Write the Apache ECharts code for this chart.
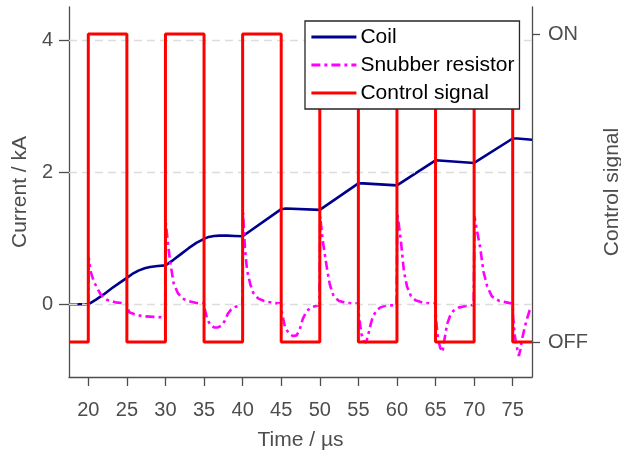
<!DOCTYPE html>
<html>
<head>
<meta charset="utf-8">
<script src="https://cdn.jsdelivr.net/npm/echarts@6/dist/echarts.min.js"></script>
<style>
html,body{margin:0;padding:0;background:#fff;}
#chart{width:621px;height:455px;}
</style>
</head>
<body>
<div id="chart"></div>
<script>
// ---- data ----
var xTicks = [20, 25, 30, 35, 40, 45, 50, 55, 60, 65, 70, 75];
var yTicks = [0, 2, 4];
var stateTicks = [0, 1];
var stateLabels = ['OFF', 'ON'];
var seriesNames = ['Coil', 'Snubber resistor', 'Control signal'];

var coilTime = [17.5, 20, 21, 22, 23, 24, 25, 25.7, 26.5, 27.3, 28, 29, 30, 31, 32, 33, 34, 35, 35.6, 36.3, 37, 38, 39, 40, 45, 45.6, 50, 55, 55.6, 60, 65, 70, 75, 75.6, 77.5];
var coilCurrent = [0, 0, 0.07, 0.15, 0.24, 0.32, 0.40, 0.46, 0.51, 0.545, 0.565, 0.58, 0.59, 0.67, 0.76, 0.85, 0.93, 0.99, 1.02, 1.035, 1.04, 1.04, 1.035, 1.03, 1.44, 1.45, 1.43, 1.83, 1.83, 1.80, 2.18, 2.14, 2.51, 2.51, 2.49];

var snubberTime = [
  17.5, 20.0, 20.05, 20.3, 20.7, 21.1, 21.6, 22.4, 23.5, 25.0,
  25.05, 25.3, 26.0, 27.0, 28.5, 29.95,
  30.05, 30.3, 30.6, 31.06, 31.6, 32.2, 32.7, 34.0, 35.0,
  35.05, 35.4, 35.8, 36.3, 36.8, 37.3, 37.7, 38.1, 38.5, 39.0, 39.95,
  40.05, 40.3, 40.57, 41.0, 41.4, 42.0, 42.8, 44.0, 45.0,
  45.05, 45.5, 46.0, 46.5, 47.0, 47.4, 47.8, 48.3, 49.0, 49.95,
  50.05, 50.4, 50.96, 51.3, 51.8, 52.5, 53.5, 55.0,
  55.05, 55.4, 55.7, 56.0, 56.3, 56.6, 56.9, 57.4, 57.8, 58.5, 59.95,
  60.05, 60.5, 60.9, 61.3, 61.8, 62.4, 63.5, 65.0,
  65.05, 65.3, 65.6, 65.9, 66.2, 66.5, 66.9, 67.3, 68.0, 69.0, 69.95,
  70.05, 70.4, 70.8, 71.2, 71.7, 72.3, 73.3, 75.0,
  75.05, 75.3, 75.6, 75.8, 76.0, 76.2, 76.6, 76.9, 77.2, 77.5
];
var snubberCurrent = [
  0, 0, 0.71, 0.5, 0.35, 0.26, 0.15, 0.07, 0.03, 0.01,
  -0.03, -0.12, -0.15, -0.18, -0.19, -0.2,
  1.23, 0.95, 0.65, 0.32, 0.17, 0.09, 0.06, 0.02, 0.01,
  -0.05, -0.22, -0.31, -0.35, -0.35, -0.32, -0.25, -0.14, -0.08, -0.04, -0.01,
  1.39, 0.85, 0.52, 0.3, 0.17, 0.09, 0.05, 0.02, 0.01,
  -0.1, -0.35, -0.44, -0.48, -0.47, -0.38, -0.22, -0.1, -0.04, -0.01,
  1.33, 0.95, 0.52, 0.3, 0.12, 0.05, 0.02, 0.01,
  -0.15, -0.45, -0.56, -0.58, -0.45, -0.3, -0.18, -0.09, -0.05, -0.02, -0.01,
  1.38, 0.97, 0.5, 0.27, 0.13, 0.06, 0.02, 0.01,
  -0.2, -0.5, -0.66, -0.72, -0.5, -0.3, -0.17, -0.1, -0.05, -0.02, -0.01,
  1.33, 1.1, 0.85, 0.5, 0.27, 0.12, 0.05, 0.01,
  -0.2, -0.5, -0.68, -0.78, -0.68, -0.53, -0.33, -0.2, -0.09, -0.04
];

var controlTime = [17.5, 20, 20, 25, 25, 30, 30, 35, 35, 40, 40, 45, 45, 50, 50, 55, 55, 60, 60, 65, 65, 70, 70, 75, 75, 77.5];
var controlState = [0, 0, 1, 1, 0, 0, 1, 1, 0, 0, 1, 1, 0, 0, 1, 1, 0, 0, 1, 1, 0, 0, 1, 1, 0, 0];

function pairs(xs, ys) {
  var out = [];
  for (var i = 0; i < xs.length; i++) out.push([xs[i], ys[i]]);
  return out;
}

var axisColor = '#4d4d4d';
var font = '"Liberation Sans", Arial, Helvetica, sans-serif';

var chart = echarts.init(document.getElementById('chart'), null, {renderer: 'canvas'});
chart.setOption({
  animation: false,
  backgroundColor: '#ffffff',
  textStyle: {fontFamily: font},
  grid: {left: 69, right: 89, top: 7, bottom: 78, containLabel: false, outerBoundsMode: 'none'},
  legend: {
    data: seriesNames,
    orient: 'vertical',
    left: 305,
    top: 21,
    z: 20,
    zlevel: 0,
    padding: [5, 5, 5, 5],
    itemGap: 6,
    itemWidth: 45,
    itemHeight: 14,
    backgroundColor: '#ffffff',
    borderColor: '#262626',
    borderWidth: 1.3,
    borderRadius: 0,
    itemStyle: {opacity: 0},
    lineStyle: {width: 2.8},
    textStyle: {fontSize: 21, color: '#000', fontFamily: font, lineHeight: 22, padding: [0, 0, 0, -1]}
  },
  xAxis: {
    type: 'value',
    min: 17.5,
    max: 77.5,
    name: 'Time / µs',
    nameLocation: 'middle',
    nameGap: 53,
    nameTextStyle: {fontSize: 21, color: axisColor, fontFamily: font},
    axisLine: {show: true, onZero: false, lineStyle: {color: axisColor, width: 1.3}},
    axisTick: {show: true, inside: false, length: 9, customValues: xTicks, lineStyle: {color: axisColor, width: 1.3}},
    axisLabel: {show: true, customValues: xTicks, margin: 23, fontSize: 20, color: axisColor, fontFamily: font},
    splitLine: {show: false}
  },
  yAxis: [{
    type: 'value',
    min: -1.1,
    max: 4.5,
    position: 'left',
    name: 'Current / kA',
    nameLocation: 'middle',
    nameGap: 29,
    nameTextStyle: {fontSize: 21, color: axisColor, fontFamily: font},
    axisLine: {show: true, onZero: false, lineStyle: {color: axisColor, width: 1.3}},
    axisTick: {show: true, inside: false, length: 10, customValues: yTicks, lineStyle: {color: axisColor, width: 1.3}},
    axisLabel: {show: true, customValues: yTicks, margin: 16, fontSize: 20, color: axisColor, fontFamily: font},
    splitLine: {show: false}
  }, {
    type: 'value',
    min: -0.1136,
    max: 1.0877,
    position: 'right',
    name: 'Control signal',
    nameLocation: 'middle',
    nameGap: 70,
    nameTextStyle: {fontSize: 21, color: axisColor, fontFamily: font},
    axisLine: {show: true, onZero: false, lineStyle: {color: axisColor, width: 1.3}},
    axisTick: {show: true, inside: false, length: 8, customValues: stateTicks, lineStyle: {color: axisColor, width: 1.3}},
    axisLabel: {
      show: true, customValues: stateTicks, margin: 16, fontSize: 20, color: axisColor, fontFamily: font,
      formatter: function (v) { return stateLabels[Math.round(v)]; }
    },
    splitLine: {show: false}
  }],
  series: [{
    name: 'grid',
    type: 'line',
    data: [],
    silent: true,
    z: 1,
    markLine: {
      silent: true,
      symbol: ['none', 'none'],
      label: {show: false},
      lineStyle: {color: '#dcdcdc', type: [8, 5], width: 1.3},
      data: yTicks.map(function (v) { return {yAxis: v}; })
    }
  }, {
    name: seriesNames[0],
    type: 'line',
    yAxisIndex: 0,
    data: pairs(coilTime, coilCurrent),
    symbol: 'none',
    z: 3,
    lineStyle: {color: '#00008f', width: 2.6},
    itemStyle: {color: '#00008f'}
  }, {
    name: seriesNames[1],
    type: 'line',
    yAxisIndex: 0,
    data: pairs(snubberTime, snubberCurrent),
    symbol: 'none',
    z: 4,
    lineStyle: {color: '#ff00ff', width: 2.6, type: [9, 4, 3, 4]},
    itemStyle: {color: '#ff00ff'}
  }, {
    name: seriesNames[2],
    type: 'line',
    yAxisIndex: 1,
    data: pairs(controlTime, controlState),
    symbol: 'none',
    z: 5,
    lineStyle: {color: '#ff0000', width: 3},
    itemStyle: {color: '#ff0000'}
  }]
});
</script>
</body>
</html>
